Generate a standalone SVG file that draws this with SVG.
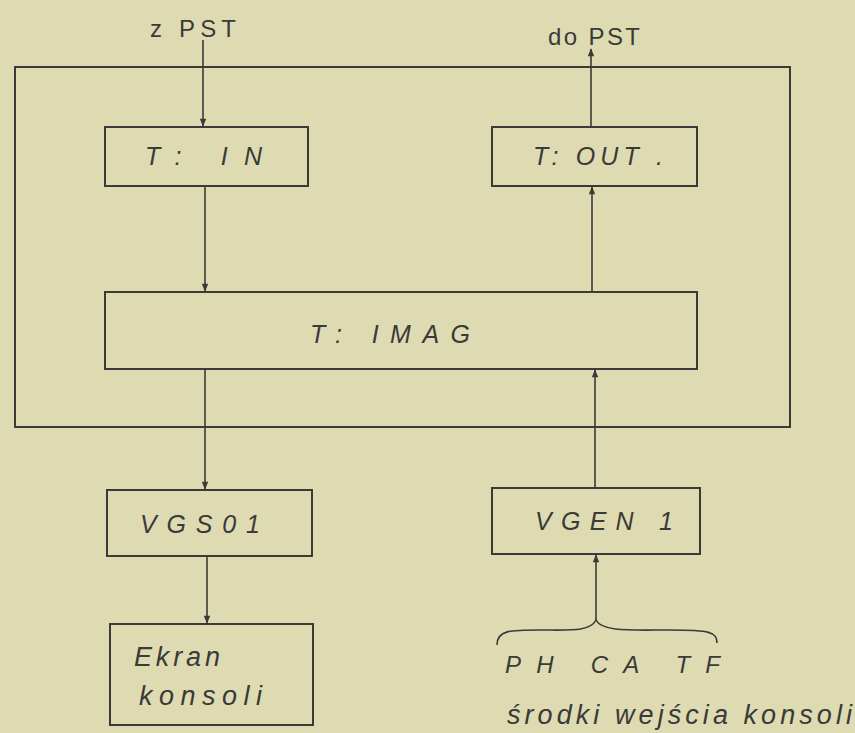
<svg xmlns="http://www.w3.org/2000/svg" width="855" height="733" viewBox="0 0 855 733">
<defs>
<marker id="ah" viewBox="0 0 10 10" refX="9" refY="5" markerWidth="9" markerHeight="8" orient="auto" markerUnits="userSpaceOnUse">
<path d="M0,1 L10,5 L0,9 Z" fill="#3a3a38"/>
</marker>
<style>
.box{fill:none;stroke:#3a3a38;stroke-width:2}
.ln{fill:none;stroke:#3a3a38;stroke-width:1.6}
.t{font-family:"Liberation Sans",sans-serif;fill:#3a3a38;font-style:italic}
.lbl{font-size:25px}
.sm{font-size:24px}
.hw{font-size:27px}
</style>
</defs>
<rect width="855" height="733" fill="#dedbb3"/>
<g id="frame"><rect class="box" x="15" y="67" width="775" height="360"/></g>
<g id="tin"><rect class="box" x="105" y="127" width="203" height="59"/><text class="t lbl" x="145" y="165" textLength="117" lengthAdjust="spacing">T: IN</text></g>
<g id="tout"><rect class="box" x="492" y="127" width="205" height="59"/><text class="t lbl" x="533" y="165" textLength="130" lengthAdjust="spacing">T: OUT .</text></g>
<g id="timag"><rect class="box" x="105" y="292" width="592" height="77"/><text class="t lbl" x="310" y="343" textLength="160" lengthAdjust="spacing">T: IMAG</text></g>
<g id="vgs01"><rect class="box" x="107" y="490" width="205" height="66"/><text class="t lbl" x="140" y="533" textLength="120" lengthAdjust="spacing">VGS01</text></g>
<g id="vgen1"><rect class="box" x="492" y="488" width="208" height="66"/><text class="t lbl" x="535" y="530" textLength="138" lengthAdjust="spacing">VGEN 1</text></g>
<g id="ekran"><rect class="box" x="110" y="624" width="203" height="101"/><text class="t hw" x="134" y="666" textLength="86" lengthAdjust="spacing">Ekran</text><text class="t hw" x="139" y="705" textLength="123" lengthAdjust="spacing">konsoli</text></g>
<g id="labels">
<text class="t sm" x="150" y="37" style="font-style:normal" textLength="86" lengthAdjust="spacing">z PST</text>
<text class="t sm" x="548" y="45" style="font-style:normal" textLength="92" lengthAdjust="spacing">do PST</text>
<text class="t sm" x="505" y="673" textLength="215" lengthAdjust="spacing">PH  CA  TF</text>
<text class="t hw" x="507" y="724" textLength="345" lengthAdjust="spacing">środki wejścia konsoli</text>
</g>
<g id="connectors">
<line class="ln" x1="203" y1="40" x2="203" y2="126" marker-end="url(#ah)"/>
<line class="ln" x1="205" y1="186" x2="205" y2="291" marker-end="url(#ah)"/>
<line class="ln" x1="205" y1="369" x2="205" y2="489" marker-end="url(#ah)"/>
<line class="ln" x1="207" y1="556" x2="207" y2="623" marker-end="url(#ah)"/>
<line class="ln" x1="591" y1="127" x2="591" y2="49" marker-end="url(#ah)"/>
<line class="ln" x1="592" y1="292" x2="592" y2="187" marker-end="url(#ah)"/>
<line class="ln" x1="595" y1="488" x2="595" y2="370" marker-end="url(#ah)"/>
<line class="ln" x1="596" y1="620" x2="596" y2="555" marker-end="url(#ah)"/>
<path class="ln" d="M497,645 C497,630 510,630 540,630 C570,630 590,632 596,620 C602,632 630,630 670,630 C710,630 717,632 717,643"/>
</g>
</svg>
